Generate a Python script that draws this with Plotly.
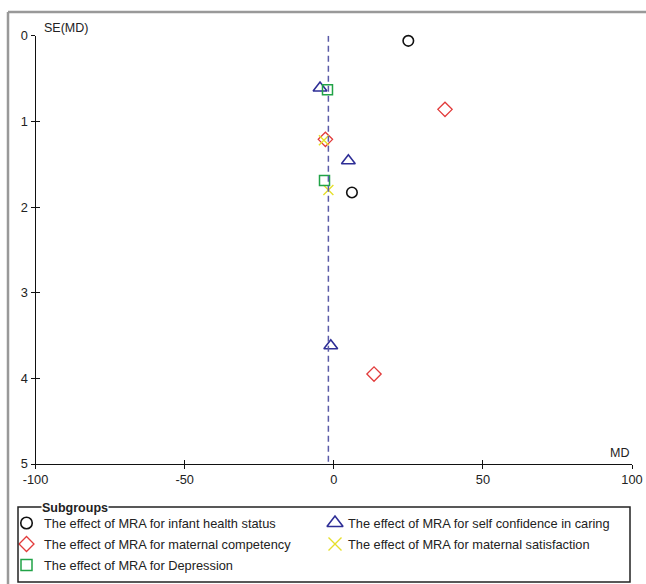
import plotly.graph_objects as go

W, H = 646, 584

# ---------------- data ----------------
subgroups = [
    "The effect of MRA for infant health status",
    "The effect of MRA for self confidence in caring",
    "The effect of MRA for maternal competency",
    "The effect of MRA for maternal satisfaction",
    "The effect of MRA for Depression",
]
infant_md = [25.0, 6.1]
infant_se = [0.06, 1.83]
confidence_md = [-4.6, 4.9, -1.0]
confidence_se = [0.61, 1.46, 3.62]
competency_md = [37.3, -2.8, 13.5]
competency_se = [0.86, 1.21, 3.95]
satisfaction_md = [-3.3, -1.8]
satisfaction_se = [1.22, 1.80]
depression_md = [-2.1, -3.1]
depression_se = [0.63, 1.69]
pooled_md = -1.8
x_ticks = [-100, -50, 0, 50, 100]
x_tick_labels = ["-100", "-50", "0", "50", "100"]
y_ticks = [0, 1, 2, 3, 4, 5]

# ---------------- styles ----------------
FONT = "Liberation Sans, Arial, sans-serif"
styles = [
    dict(symbol="circle-open", color="#111111", size=10.5, lw=1.6, lsize=11.5),
    dict(symbol="triangle-up-open", color="#2e2e96", size=12, lw=1.6, lsize=14),
    dict(symbol="diamond-open", color="#e23b3b", size=11, lw=1.3, lsize=11.5),
    dict(symbol="x-thin-open", color="#e6df2a", size=10, lw=1.4, lsize=13),
    dict(symbol="square-open", color="#21a347", size=10, lw=1.5, lsize=11),
]
series = [
    (infant_md, infant_se),
    (confidence_md, confidence_se),
    (competency_md, competency_se),
    (satisfaction_md, satisfaction_se),
    (depression_md, depression_se),
]

# plot area in pixels (screen coordinates)
PL, PR, PT, PB = 35.5, 632.0, 35.7, 464.0
OFF = 0  # page offset (body margin removed by post_script)

fig = go.Figure()

for (mds, ses), st, name in zip(series, styles, subgroups):
    fig.add_trace(go.Scatter(
        x=mds, y=ses, mode="markers", name=name, showlegend=False,
        marker=dict(symbol=st["symbol"], size=st["size"], color=st["color"],
                    line=dict(width=st["lw"], color=st["color"])),
        xaxis="x", yaxis="y", cliponaxis=False,
    ))

# dummy traces to activate crossing-tick overlay axes
fig.add_trace(go.Scatter(x=[None], y=[None], xaxis="x3", yaxis="y",
                         showlegend=False, hoverinfo="skip"))
fig.add_trace(go.Scatter(x=[None], y=[None], xaxis="x", yaxis="y3",
                         showlegend=False, hoverinfo="skip"))

# custom legend (pixel overlay axes x2/y2)
col_mark = [26.5, 335.0]
col_text = [42.0, 345.5]
row_y = [523.0, 544.0, 565.0]
for i, (st, name) in enumerate(zip(styles, subgroups)):
    c, r = i % 2, i // 2
    fig.add_trace(go.Scatter(
        x=[col_mark[c]], y=[row_y[r]], mode="markers", showlegend=False,
        marker=dict(symbol=st["symbol"], size=st["lsize"], color=st["color"],
                    line=dict(width=st["lw"], color=st["color"])),
        xaxis="x2", yaxis="y2", hoverinfo="skip", cliponaxis=False,
    ))
    fig.add_annotation(x=col_text[c], y=row_y[r], xref="x2", yref="y2",
                       text=name, showarrow=False, xanchor="left", yanchor="middle",
                       font=dict(family=FONT, size=12.8, color="#222222"))

axis_common = dict(showgrid=False, zeroline=False, tickcolor="#111111",
                   tickwidth=1, ticklen=4, automargin=False)

fig.update_layout(
    width=W, height=H,
    margin=dict(l=0, r=0, t=0, b=0, pad=0, autoexpand=False),
    paper_bgcolor="white", plot_bgcolor="rgba(0,0,0,0)",
    font=dict(family=FONT, size=12.5, color="#222222"),
    showlegend=False,
    xaxis=dict(domain=[(PL - OFF) / W, (PR - OFF) / W], range=[-100, 100],
               tickmode="array", tickvals=x_ticks, ticktext=x_tick_labels,
               ticks="outside", showline=True,
               linecolor="#111111", linewidth=1, anchor="y",
               tickfont=dict(size=12.8, color="#222222"), **axis_common),
    yaxis=dict(domain=[(H - PB + OFF) / H, (H - PT + OFF) / H], range=[5, 0],
               tickmode="array", tickvals=y_ticks, ticks="outside", showline=True,
               linecolor="#111111", linewidth=1, anchor="x",
               tickfont=dict(size=12.8, color="#222222"), **axis_common),
    xaxis3=dict(overlaying="x", range=[-100, 100], tickmode="array",
                tickvals=x_ticks, ticks="inside", showticklabels=False,
                showline=False, anchor="y", **axis_common),
    yaxis3=dict(overlaying="y", range=[5, 0], tickmode="array",
                tickvals=y_ticks, ticks="inside", showticklabels=False,
                showline=False, anchor="x", side="left", **axis_common),
    xaxis2=dict(domain=[0, 1], range=[OFF, W + OFF], visible=False, anchor="y2"),
    yaxis2=dict(domain=[0, 1], range=[H + OFF, OFF], visible=False, anchor="x2"),
)

# pooled estimate dashed line
fig.add_shape(type="line", xref="x", yref="y", x0=pooled_md, x1=pooled_md,
              y0=0, y1=5, line=dict(color="#5b5ba8", width=1.5, dash="6px,4px"),
              layer="above")

# outer frame (left and top grey lines)
fig.add_shape(type="line", xref="x2", yref="y2", x0=8, x1=8, y0=12, y1=H + 20,
              line=dict(color="#999999", width=2.5))
fig.add_shape(type="line", xref="x2", yref="y2", x0=8, x1=W + 20, y0=12, y1=12,
              line=dict(color="#999999", width=2.5))

# legend box
fig.add_shape(type="rect", xref="x2", yref="y2", x0=18, x1=630, y0=507, y1=582,
              line=dict(color="#222222", width=1.5))
fig.add_annotation(x=41, y=508, xref="x2", yref="y2", text="<b>Subgroups</b>",
                   showarrow=False, xanchor="left", yanchor="middle",
                   bgcolor="white", borderpad=0,
                   font=dict(family=FONT, size=12.5, color="#222222"))

# axis titles
fig.add_annotation(x=42, y=28, xref="x2", yref="y2", text="SE(MD)",
                   showarrow=False, xanchor="left", yanchor="middle",
                   font=dict(family=FONT, size=12.5, color="#222222"))
fig.add_annotation(x=631, y=453, xref="x2", yref="y2", text="MD",
                   showarrow=False, xanchor="right", yanchor="middle",
                   font=dict(family=FONT, size=12.5, color="#222222"))

fig.write_html(
    "out.html",
    config={"displayModeBar": False},
    post_script="document.body.style.margin='0';"
                "document.documentElement.style.overflow='hidden';"
                "document.body.style.overflow='hidden';",
)
